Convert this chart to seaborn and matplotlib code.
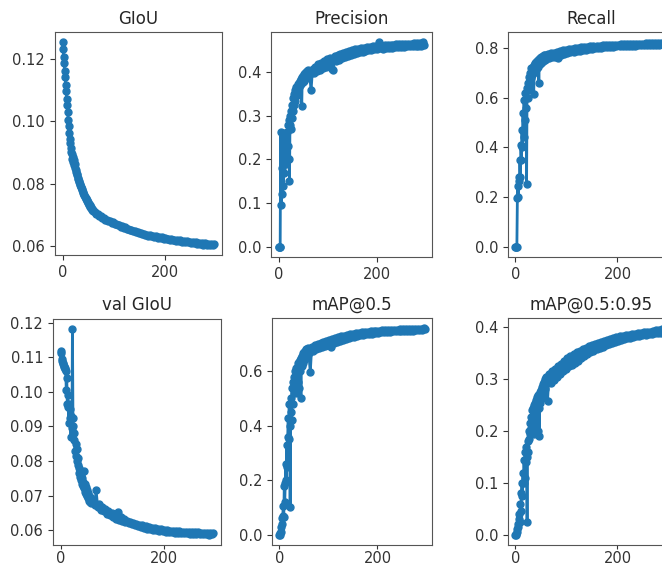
import pandas as pd
import seaborn as sns
import matplotlib
matplotlib.use("Agg")
import matplotlib.pyplot as plt

# epochs: every epoch up to 60, then every 3rd
epochs = list(range(0, 61)) + list(range(63, 300, 3))

giou = [
    0.1252, 0.1230, 0.1205, 0.1185, 0.1160, 0.1140, 0.1115, 0.1095, 0.1070, 0.1050,
    0.1028, 0.1005, 0.0985, 0.0962, 0.0942, 0.0930, 0.0915, 0.0902, 0.0895, 0.0880,
    0.0886, 0.0870, 0.0875, 0.0860, 0.0862, 0.0850, 0.0843, 0.0838, 0.0830, 0.0826,
    0.0818, 0.0815, 0.0808, 0.0805, 0.0798, 0.0796, 0.0790, 0.0788, 0.0782, 0.0778,
    0.0772, 0.0770, 0.0764, 0.0762, 0.0757, 0.0755, 0.0750, 0.0748, 0.0743, 0.0741,
    0.0737, 0.0736, 0.0731, 0.0730, 0.0726, 0.0725, 0.0721, 0.0720, 0.0716, 0.0716,
    0.0712,
    0.0709, 0.0703, 0.0702, 0.0696, 0.0695, 0.0689, 0.0690, 0.0684, 0.0685, 0.0679,
    0.0681, 0.0674, 0.0676, 0.0670, 0.0672, 0.0666, 0.0668, 0.0662, 0.0664, 0.0658,
    0.0660, 0.0654, 0.0656, 0.0650, 0.0652, 0.0647, 0.0649, 0.0644, 0.0646, 0.0641,
    0.0643, 0.0638, 0.0640, 0.0635, 0.0637, 0.0633, 0.0635, 0.0631, 0.0633, 0.0629,
    0.0631, 0.0627, 0.0629, 0.0625, 0.0628, 0.0623, 0.0626, 0.0622, 0.0624, 0.0620,
    0.0623, 0.0619, 0.0621, 0.0617, 0.0620, 0.0616, 0.0618, 0.0614, 0.0617, 0.0613,
    0.0616, 0.0612, 0.0614, 0.0610, 0.0613, 0.0609, 0.0612, 0.0608, 0.0611, 0.0607,
    0.0610, 0.0605, 0.0609, 0.0604, 0.0608, 0.0603, 0.0607, 0.0604, 0.0608]

precision = [
    0.000, 0.000, 0.000, 0.000, 0.262, 0.095, 0.180, 0.120, 0.255, 0.140,
    0.215, 0.170, 0.260, 0.200, 0.225, 0.190, 0.262, 0.205, 0.280, 0.230,
    0.290, 0.200, 0.150, 0.280, 0.300, 0.270, 0.310, 0.295, 0.325, 0.310,
    0.340, 0.325, 0.350, 0.335, 0.360, 0.345, 0.365, 0.350, 0.355, 0.372,
    0.360, 0.375, 0.365, 0.380, 0.370, 0.385, 0.372, 0.322, 0.388, 0.378,
    0.392, 0.380, 0.395, 0.385, 0.398, 0.388, 0.400, 0.390, 0.402, 0.392,
    0.405,
    0.395, 0.358, 0.408, 0.398, 0.412, 0.402, 0.418, 0.405, 0.422, 0.410,
    0.425, 0.412, 0.430, 0.418, 0.432, 0.408, 0.405, 0.436, 0.425, 0.440,
    0.428, 0.442, 0.432, 0.445, 0.435, 0.447, 0.437, 0.449, 0.440, 0.450,
    0.442, 0.452, 0.444, 0.453, 0.446, 0.455, 0.447, 0.456, 0.449, 0.457,
    0.450, 0.458, 0.451, 0.459, 0.452, 0.460, 0.453, 0.468, 0.455, 0.461,
    0.454, 0.462, 0.455, 0.462, 0.456, 0.463, 0.456, 0.463, 0.457, 0.464,
    0.457, 0.464, 0.458, 0.464, 0.458, 0.465, 0.459, 0.465, 0.459, 0.465,
    0.460, 0.466, 0.460, 0.466, 0.461, 0.467, 0.461, 0.468, 0.463]

recall = [
    0.000, 0.000, 0.000, 0.000, 0.198, 0.245, 0.200, 0.280, 0.265, 0.350,
    0.280, 0.410, 0.350, 0.470, 0.400, 0.540, 0.440, 0.590, 0.510, 0.620,
    0.560, 0.600, 0.254, 0.640, 0.600, 0.660, 0.630, 0.685, 0.650, 0.700,
    0.720, 0.680, 0.710, 0.690, 0.725, 0.700, 0.615, 0.730, 0.705, 0.740,
    0.715, 0.745, 0.720, 0.748, 0.725, 0.752, 0.660, 0.755, 0.735, 0.758,
    0.740, 0.762, 0.745, 0.765, 0.748, 0.768, 0.752, 0.770, 0.750, 0.772,
    0.756,
    0.774, 0.758, 0.778, 0.762, 0.781, 0.765, 0.784, 0.760, 0.787, 0.772,
    0.790, 0.776, 0.792, 0.780, 0.795, 0.782, 0.797, 0.785, 0.799, 0.787,
    0.800, 0.789, 0.802, 0.791, 0.803, 0.793, 0.805, 0.795, 0.806, 0.797,
    0.807, 0.798, 0.808, 0.800, 0.809, 0.801, 0.810, 0.802, 0.811, 0.803,
    0.811, 0.804, 0.812, 0.805, 0.813, 0.806, 0.813, 0.806, 0.814, 0.807,
    0.814, 0.808, 0.815, 0.808, 0.815, 0.809, 0.816, 0.809, 0.816, 0.810,
    0.817, 0.810, 0.817, 0.811, 0.818, 0.811, 0.818, 0.812, 0.819, 0.812,
    0.819, 0.813, 0.820, 0.813, 0.820, 0.814, 0.821, 0.815, 0.822]

val_giou = [
    0.1118, 0.1112, 0.1095, 0.1090, 0.1085, 0.1080, 0.1075, 0.1072, 0.1065, 0.1070,
    0.1060, 0.1005, 0.1040, 0.0965, 0.0990, 0.0955, 0.0910, 0.0965, 0.0925, 0.0950,
    0.0870, 0.0930, 0.0895, 0.1182, 0.0925, 0.0900, 0.0860, 0.0880, 0.0830, 0.0850,
    0.0815, 0.0835, 0.0800, 0.0790, 0.0810, 0.0765, 0.0780, 0.0755, 0.0770, 0.0745,
    0.0760, 0.0735, 0.0750, 0.0728, 0.0740, 0.0772, 0.0722, 0.0735, 0.0712, 0.0725,
    0.0705, 0.0715, 0.0698, 0.0708, 0.0692, 0.0700, 0.0686, 0.0695, 0.0682, 0.0690,
    0.0678,
    0.0685, 0.0672, 0.0715, 0.0668, 0.0676, 0.0660, 0.0668, 0.0655, 0.0662, 0.0648,
    0.0656, 0.0643, 0.0650, 0.0638, 0.0645, 0.0634, 0.0652, 0.0630, 0.0637, 0.0627,
    0.0632, 0.0623, 0.0628, 0.0620, 0.0625, 0.0617, 0.0622, 0.0614, 0.0619, 0.0612,
    0.0616, 0.0609, 0.0614, 0.0607, 0.0611, 0.0605, 0.0609, 0.0603, 0.0607, 0.0601,
    0.0606, 0.0600, 0.0604, 0.0598, 0.0603, 0.0597, 0.0601, 0.0596, 0.0600, 0.0595,
    0.0599, 0.0594, 0.0598, 0.0593, 0.0598, 0.0593, 0.0597, 0.0592, 0.0596, 0.0591,
    0.0596, 0.0591, 0.0595, 0.0590, 0.0595, 0.0590, 0.0594, 0.0589, 0.0594, 0.0589,
    0.0593, 0.0588, 0.0593, 0.0588, 0.0592, 0.0587, 0.0592, 0.0588, 0.0591]

map50 = [
    0.000, 0.000, 0.005, 0.010, 0.030, 0.060, 0.040, 0.070, 0.105, 0.065,
    0.180, 0.120, 0.190, 0.260, 0.200, 0.330, 0.250, 0.360, 0.430, 0.350,
    0.480, 0.400, 0.100, 0.450, 0.500, 0.420, 0.540, 0.480, 0.560, 0.520,
    0.580, 0.540, 0.600, 0.560, 0.610, 0.580, 0.520, 0.620, 0.560, 0.630,
    0.540, 0.635, 0.600, 0.640, 0.500, 0.650, 0.620, 0.655, 0.630, 0.665,
    0.640, 0.670, 0.648, 0.675, 0.655, 0.680, 0.660, 0.682, 0.665, 0.685,
    0.668,
    0.596, 0.690, 0.675, 0.695, 0.680, 0.700, 0.686, 0.705, 0.690, 0.708,
    0.694, 0.712, 0.698, 0.715, 0.690, 0.718, 0.705, 0.722, 0.708, 0.725,
    0.712, 0.728, 0.715, 0.730, 0.718, 0.733, 0.721, 0.735, 0.724, 0.738,
    0.727, 0.740, 0.729, 0.741, 0.731, 0.743, 0.733, 0.744, 0.735, 0.745,
    0.737, 0.746, 0.738, 0.747, 0.740, 0.748, 0.741, 0.749, 0.742, 0.750,
    0.743, 0.750, 0.744, 0.751, 0.745, 0.751, 0.746, 0.752, 0.746, 0.752,
    0.747, 0.753, 0.747, 0.753, 0.748, 0.754, 0.748, 0.754, 0.749, 0.755,
    0.749, 0.755, 0.750, 0.756, 0.750, 0.756, 0.751, 0.757, 0.754]

map5095 = [
    0.000, 0.000, 0.002, 0.005, 0.012, 0.020, 0.015, 0.030, 0.040, 0.025,
    0.060, 0.045, 0.080, 0.100, 0.075, 0.120, 0.100, 0.145, 0.110, 0.160,
    0.170, 0.140, 0.150, 0.024, 0.180, 0.160, 0.200, 0.185, 0.215, 0.195,
    0.228, 0.205, 0.240, 0.215, 0.245, 0.225, 0.195, 0.250, 0.230, 0.255,
    0.205, 0.260, 0.240, 0.265, 0.200, 0.270, 0.245, 0.190, 0.275, 0.255,
    0.280, 0.262, 0.285, 0.268, 0.290, 0.272, 0.295, 0.278, 0.300, 0.282,
    0.305,
    0.258, 0.310, 0.292, 0.315, 0.298, 0.320, 0.304, 0.325, 0.310, 0.330,
    0.315, 0.335, 0.320, 0.340, 0.325, 0.345, 0.328, 0.348, 0.332, 0.352,
    0.336, 0.355, 0.340, 0.358, 0.344, 0.361, 0.348, 0.364, 0.352, 0.366,
    0.355, 0.368, 0.358, 0.370, 0.361, 0.372, 0.363, 0.374, 0.366, 0.376,
    0.368, 0.378, 0.370, 0.380, 0.372, 0.381, 0.374, 0.383, 0.376, 0.384,
    0.377, 0.385, 0.379, 0.386, 0.380, 0.387, 0.382, 0.388, 0.383, 0.389,
    0.384, 0.390, 0.385, 0.391, 0.386, 0.392, 0.387, 0.392, 0.388, 0.393,
    0.389, 0.394, 0.390, 0.395, 0.390, 0.396, 0.391, 0.398, 0.395]

titles = ['GIoU', 'Precision', 'Recall', 'val GIoU', 'mAP@0.5', 'mAP@0.5:0.95']
series = [giou, precision, recall, val_giou, map50, map5095]

sns.set_style('ticks')
plt.rcParams['font.family'] = ['DejaVu Sans']

fig = plt.figure(figsize=(6.62, 5.66), dpi=100)

boxes = [
    [0.083, 0.549, 0.252, 0.394],
    [0.410, 0.546, 0.242, 0.397],
    [0.767, 0.546, 0.252, 0.397],
    [0.080, 0.037, 0.254, 0.400],
    [0.411, 0.037, 0.242, 0.401],
    [0.767, 0.037, 0.252, 0.401],
]

for i, (box, title, vals) in enumerate(zip(boxes, titles, series)):
    ax = fig.add_axes(box)
    df = pd.DataFrame({'epoch': epochs, 'value': vals})
    sns.lineplot(data=df, x='epoch', y='value', ax=ax, color='#1f77b4',
                 marker='.', markersize=10, linewidth=2,
                 markeredgecolor='#1f77b4', markeredgewidth=1)
    ax.set_title(title, fontsize=12)
    ax.set_xlabel('')
    ax.set_ylabel('')
    ax.set_xticks([0, 200])
    ax.tick_params(labelsize=10.5, colors='#333333')
    if i >= 3:
        # bottom row sits right at the lower edge, pull labels up a little
        ax.tick_params(axis='x', length=3, pad=1.5)
    for s in ax.spines.values():
        s.set_color('#555555')

fig.savefig('out.png', dpi=100)
